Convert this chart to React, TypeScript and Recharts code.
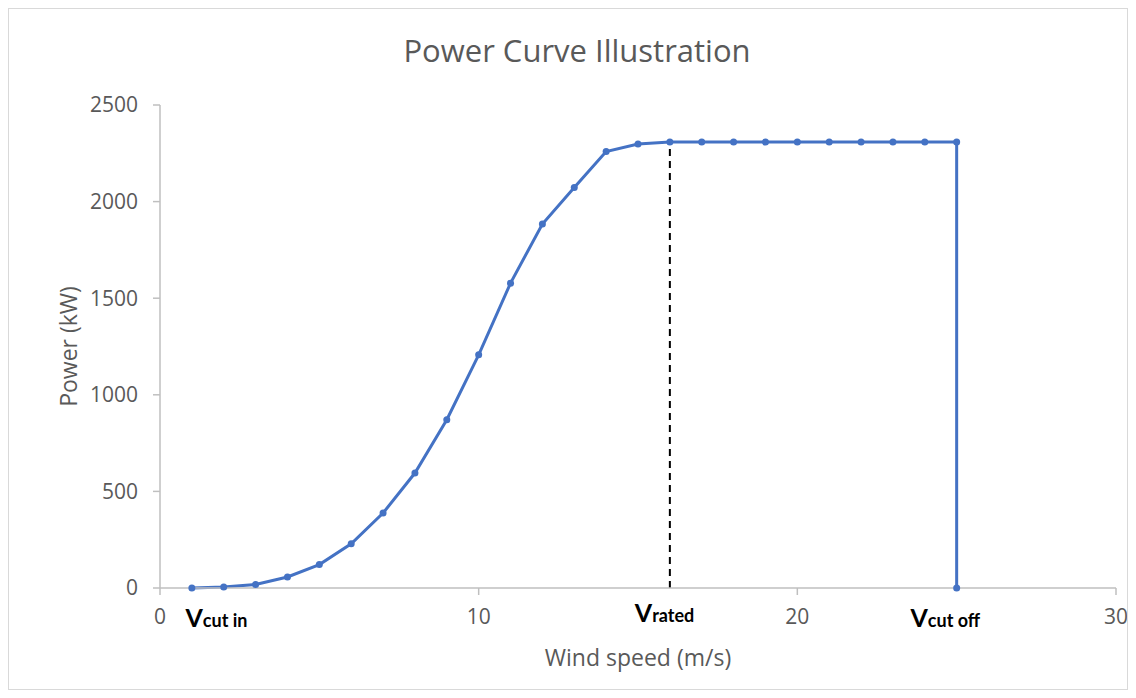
import React from 'react';
import { LineChart, Line, XAxis, YAxis, ReferenceLine, ReferenceDot, Label } from 'recharts';

const windSpeed = [1, 2, 3, 4, 5, 6, 7, 8, 9, 10, 11, 12, 13, 14, 15, 16, 17, 18, 19, 20, 21, 22, 23, 24, 25, 25];
const power = [0, 5, 18, 57, 121, 229, 388, 595, 871, 1207, 1578, 1884, 2073, 2259, 2298, 2308, 2308, 2308, 2308, 2308, 2308, 2308, 2308, 2308, 2308, 0];
const xTicks = [0, 10, 20, 30];
const yTicks = [0, 500, 1000, 1500, 2000, 2500];
const ratedSpeed = 16;
const ratedPower = 2308;
const annotations = [
  { x: 0.8, sub: 'cut in', dy: 39 },
  { x: 14.9, sub: 'rated', dy: 34 },
  { x: 23.55, sub: 'cut off', dy: 39 },
];

const data = windSpeed.map((x, i) => ({ x, p: power[i] }));

const FONT = '"Open Sans", Lato, sans-serif';
const BOLD_FONT = 'Lato, "Open Sans", sans-serif';
const GRAY = '#595959';

function makeLabel(sub: string, dy: number) {
  return (props: any) => {
    const vb = props.viewBox || {};
    const cx = vb.cx !== undefined ? vb.cx : vb.x + (vb.width || 0) / 2;
    const cy = vb.cy !== undefined ? vb.cy : vb.y + (vb.height || 0) / 2;
    return (
      <text x={cx} y={cy + dy} fontFamily={BOLD_FONT} fontWeight={700} fill="#000" textAnchor="start">
        <tspan fontSize={25}>V</tspan>
        <tspan fontSize={18}>{sub}</tspan>
      </text>
    );
  };
}

export default function App() {
  return (
    <div style={{ position: 'relative', width: 1120, height: 682, boxSizing: 'border-box', border: '1px solid #d9d9d9', background: '#fff' }}>
      <div style={{ position: 'absolute', left: 18, right: 0, top: 21, textAlign: 'center', fontFamily: FONT, fontSize: 31, color: GRAY, lineHeight: '40px' }}>
        Power Curve Illustration
      </div>
      <LineChart width={1118} height={680} data={data} margin={{ top: 96, right: 11, bottom: 71, left: 91 }}>
        <XAxis
          dataKey="x"
          type="number"
          domain={[0, 30]}
          ticks={xTicks}
          tickSize={7}
          stroke="#bfbfbf"
          strokeWidth={1.5}
          tick={{ fill: GRAY, fontSize: 21, fontFamily: FONT }}
          tickMargin={14}
          height={30}
        >
          <Label value="Wind speed (m/s)" position="bottom" offset={32} style={{ fill: GRAY, fontSize: 23, fontFamily: FONT }} />
        </XAxis>
        <YAxis
          type="number"
          domain={[0, 2500]}
          ticks={yTicks}
          tickSize={7}
          stroke="#bfbfbf"
          strokeWidth={1.5}
          tick={{ fill: GRAY, fontSize: 21, fontFamily: FONT }}
          tickMargin={15}
          width={60}
        >
          <Label value="Power (kW)" angle={-90} position="left" offset={31} style={{ fill: GRAY, fontSize: 23, fontFamily: FONT, textAnchor: 'middle' }} />
        </YAxis>
        <ReferenceLine
          segment={[{ x: ratedSpeed, y: 0 }, { x: ratedSpeed, y: ratedPower }]}
          stroke="#000"
          strokeWidth={2}
          strokeDasharray="7 5"
        />
        <Line
          dataKey="p"
          type="linear"
          stroke="#4472C4"
          strokeWidth={3}
          dot={{ r: 3.5, fill: '#4472C4', stroke: '#4472C4', strokeWidth: 0 }}
          activeDot={false}
          isAnimationActive={false}
        />
        {annotations.map((a) => (
          <ReferenceDot key={a.sub} x={a.x} y={0} r={0} stroke="none" fill="none" ifOverflow="visible" label={makeLabel(a.sub, a.dy)} />
        ))}
      </LineChart>
    </div>
  );
}
